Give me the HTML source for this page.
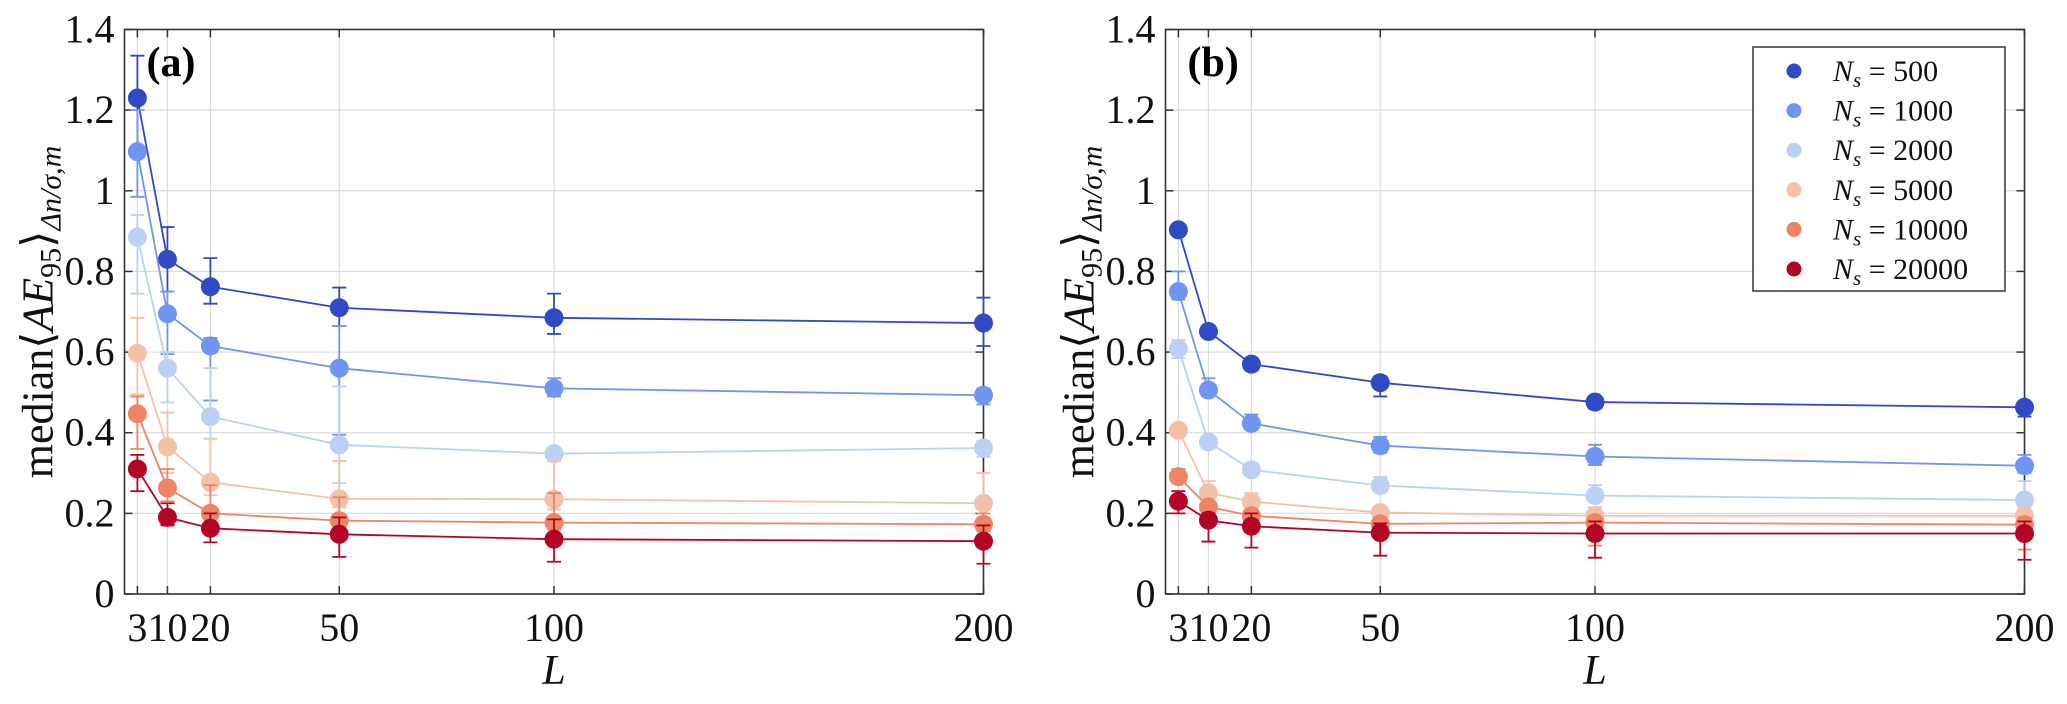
<!DOCTYPE html>
<html><head><meta charset="utf-8"><style>
html,body{margin:0;padding:0;background:#fff;}
svg, svg text{font-family:"Liberation Serif","DejaVu Serif",serif;}
</style></head><body>
<svg id="chart" width="2067" height="699" viewBox="0 0 2067 699" xmlns="http://www.w3.org/2000/svg" font-family="Liberation Serif, DejaVu Serif, serif"></svg>
<script>
const categoriesL = [3, 10, 20, 50, 100, 200];
const seriesNames = ["500", "1000", "2000", "5000", "10000", "20000"];
const seriesColors = ["#3049c5", "#6f95f0", "#bcd0f3", "#f3c1a8", "#ec8465", "#b40426"];
const yTicks = [0, 0.2, 0.4, 0.6, 0.8, 1, 1.2, 1.4];
const yTickLabels = ["0", "0.2", "0.4", "0.6", "0.8", "1", "1.2", "1.4"];
const xTickLabels = ["3", "10", "20", "50", "100", "200"];

const aMed500 = [1.23, 0.83, 0.762, 0.71, 0.685, 0.672];
const aMed1000 = [1.097, 0.695, 0.615, 0.56, 0.51, 0.493];
const aMed2000 = [0.885, 0.56, 0.44, 0.37, 0.348, 0.362];
const aMed5000 = [0.597, 0.365, 0.277, 0.236, 0.235, 0.225];
const aMed10000 = [0.447, 0.263, 0.2, 0.182, 0.177, 0.173];
const aMed20000 = [0.31, 0.19, 0.163, 0.148, 0.136, 0.131];
const aHi500 = [1.335, 0.91, 0.833, 0.76, 0.745, 0.735];
const aLo500 = [1.11, 0.75, 0.72, 0.665, 0.645, 0.615];
const aHi1000 = [1.2, 0.75, 0.635, 0.665, 0.535, 0.51];
const aLo1000 = [0.985, 0.595, 0.48, 0.395, 0.49, 0.47];
const aHi2000 = [0.94, 0.6, 0.56, 0.515, 0.36, 0.38];
const aLo2000 = [0.745, 0.475, 0.385, 0.275, 0.33, 0.34];
const aHi5000 = [0.685, 0.45, 0.385, 0.33, 0.33, 0.3];
const aLo5000 = [0.495, 0.3, 0.245, 0.215, 0.21, 0.2];
const aHi10000 = [0.49, 0.31, 0.27, 0.24, 0.25, 0.2];
const aLo10000 = [0.36, 0.23, 0.19, 0.17, 0.16, 0.155];
const aHi20000 = [0.345, 0.225, 0.2, 0.19, 0.185, 0.17];
const aLo20000 = [0.255, 0.17, 0.128, 0.092, 0.08, 0.075];

const bMed500 = [0.903, 0.651, 0.57, 0.524, 0.476, 0.463];
const bMed1000 = [0.75, 0.506, 0.423, 0.368, 0.341, 0.318];
const bMed2000 = [0.609, 0.377, 0.308, 0.269, 0.244, 0.233];
const bMed5000 = [0.406, 0.251, 0.229, 0.202, 0.194, 0.194];
const bMed10000 = [0.291, 0.216, 0.194, 0.174, 0.177, 0.172];
const bMed20000 = [0.23, 0.183, 0.168, 0.152, 0.15, 0.15];
const bHi500 = [0.915, 0.665, 0.585, 0.54, 0.49, 0.475];
const bLo500 = [0.89, 0.64, 0.555, 0.49, 0.46, 0.44];
const bHi1000 = [0.8, 0.535, 0.445, 0.39, 0.37, 0.345];
const bLo1000 = [0.73, 0.49, 0.41, 0.35, 0.32, 0.3];
const bHi2000 = [0.63, 0.39, 0.325, 0.29, 0.27, 0.28];
const bLo2000 = [0.585, 0.36, 0.3, 0.255, 0.23, 0.22];
const bHi5000 = [0.42, 0.28, 0.25, 0.21, 0.215, 0.215];
const bLo5000 = [0.39, 0.235, 0.205, 0.19, 0.175, 0.175];
const bHi10000 = [0.31, 0.225, 0.21, 0.185, 0.19, 0.19];
const bLo10000 = [0.275, 0.2, 0.175, 0.15, 0.12, 0.11];
const bHi20000 = [0.255, 0.2, 0.2, 0.175, 0.18, 0.18];
const bLo20000 = [0.2, 0.13, 0.115, 0.095, 0.09, 0.085];

const NS = "http://www.w3.org/2000/svg";
const FONT = '"Liberation Serif", "DejaVu Serif", serif';
const svg = document.getElementById("chart");
function mk(tag, attrs, parent) {
  const e = document.createElementNS(NS, tag);
  for (const k in attrs) e.setAttribute(k, attrs[k]);
  if (tag === "text") e.style.fontFamily = FONT;
  (parent || svg).appendChild(e);
  return e;
}

function panel(id, left, label, meds, his, los) {
  const right = left + 859, top = 29.5, bottom = 594;
  const xS = v => left + (v / 200) * (right - left);
  const yS = v => bottom - (v / 1.4) * (bottom - top);
  const g = mk("g", {});
  
  
  yTicks.forEach((t, i) => {
    const l = mk("line", {x1: left, x2: right, y1: yS(t), y2: yS(t), stroke: "#dcdcdc", "stroke-width": 1.2}, g);
    
    
    const tk = mk("line", {x1: left, x2: left + 8, y1: yS(t), y2: yS(t), stroke: "#333", "stroke-width": 1.5}, g);
    
    
    mk("line", {x1: right - 8, x2: right, y1: yS(t), y2: yS(t), stroke: "#333", "stroke-width": 1.5}, g);
    const tx = mk("text", {x: left - 10, y: yS(t) + 13, "text-anchor": "end", "font-size": 40, fill: "#111"}, g);
    tx.textContent = yTickLabels[i];
    
    
  });
  categoriesL.forEach((c, i) => {
    const l = mk("line", {x1: xS(c), x2: xS(c), y1: top, y2: bottom, stroke: "#dcdcdc", "stroke-width": 1.2}, g);
    
    
    const tk = mk("line", {x1: xS(c), x2: xS(c), y1: bottom - 8, y2: bottom, stroke: "#333", "stroke-width": 1.5}, g);
    
    
    mk("line", {x1: xS(c), x2: xS(c), y1: top, y2: top + 8, stroke: "#333", "stroke-width": 1.5}, g);
    const tx = mk("text", {x: xS(c), y: 641, "text-anchor": "middle", "font-size": 40, fill: "#111"}, g);
    tx.textContent = xTickLabels[i];
    
    
  });
  const box = mk("rect", {x: left, y: top, width: right - left, height: bottom - top, fill: "none", stroke: "#333", "stroke-width": 1.6}, g);
  
  
  meds.forEach((m, s) => {
    const sg = mk("g", {}, g);
    
    
    const col = seriesColors[s];
    const pts = categoriesL.map((c, i) => xS(c) + "," + yS(m[i])).join(" ");
    const pl = mk("polyline", {points: pts, fill: "none", stroke: col, "stroke-width": 1.8}, sg);
    
    
    categoriesL.forEach((c, i) => {
      const x = xS(c);
      const eb = mk("path", {d: `M${x},${yS(los[s][i])}V${yS(his[s][i])}M${x-7},${yS(los[s][i])}H${x+7}M${x-7},${yS(his[s][i])}H${x+7}`, stroke: col, "stroke-width": 1.8, fill: "none"}, sg);
      
      
      const p = mk("circle", {cx: x, cy: yS(m[i]), r: 9.5, fill: col}, sg);
      
      
    });
  });
  const lab = mk("text", {x: left + 22, y: 76, "font-size": 42, "font-weight": "bold", fill: "#000"}, g);
  lab.textContent = label;
  
  
  const xl = mk("text", {x: (left + right) / 2, y: 684, "text-anchor": "middle", "font-size": 42, "font-style": "italic", fill: "#111"}, g);
  xl.textContent = "L";
  
  
  const yl = mk("text", {x: 0, y: 0, "text-anchor": "middle", "font-size": 44, fill: "#111", transform: `translate(${left - 72},312) rotate(-90)`}, g);
  yl.innerHTML = 'median⟨<tspan font-style="italic">AE</tspan><tspan font-size="30" dy="8">95</tspan><tspan dy="-8">⟩</tspan><tspan font-size="30" dy="8" font-style="italic">Δn/σ,m</tspan>';
  
  
}

panel("a", 124.5, "(a)",
  [aMed500, aMed1000, aMed2000, aMed5000, aMed10000, aMed20000],
  [aHi500, aHi1000, aHi2000, aHi5000, aHi10000, aHi20000],
  [aLo500, aLo1000, aLo2000, aLo5000, aLo10000, aLo20000]);
panel("b", 1165.5, "(b)",
  [bMed500, bMed1000, bMed2000, bMed5000, bMed10000, bMed20000],
  [bHi500, bHi1000, bHi2000, bHi5000, bHi10000, bHi20000],
  [bLo500, bLo1000, bLo2000, bLo5000, bLo10000, bLo20000]);

const lg = mk("g", {});


mk("rect", {x: 1753, y: 47, width: 252, height: 244, fill: "#fff", stroke: "#333", "stroke-width": 1.5}, lg);
seriesNames.forEach((n, i) => {
  const y = 71 + i * 39.6;
  const e = mk("g", {}, lg);
  
  
  mk("circle", {cx: 1794, cy: y, r: 7.5, fill: seriesColors[i]}, e);
  const t = mk("text", {x: 1833, y: y + 10, "font-size": 30, fill: "#111"}, e);
  t.innerHTML = '<tspan font-style="italic">N</tspan><tspan font-style="italic" font-size="21" dy="6">s</tspan><tspan dy="-6"> = ' + n + '</tspan>';
});
</script>
</body></html>
